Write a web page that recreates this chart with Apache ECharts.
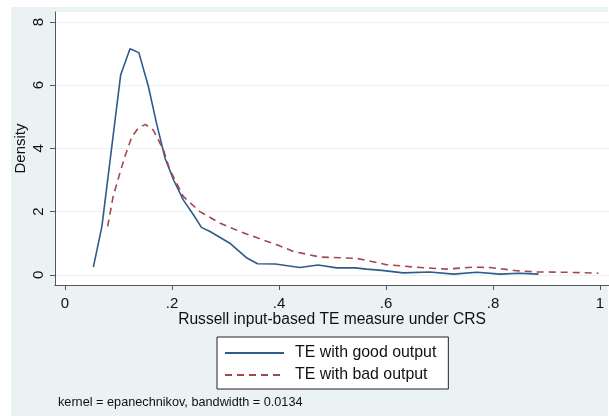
<!DOCTYPE html>
<html>
<head>
<meta charset="utf-8">
<script src="https://cdn.jsdelivr.net/npm/echarts@6/dist/echarts.min.js"></script>
<style>
  html, body { margin: 0; padding: 0; background: #fff; }
  #chart { width: 609px; height: 416px; }
</style>
</head>
<body>
<div id="chart"></div>
<script>
// kernel density estimates
const goodX = [0.053, 0.069, 0.104, 0.1215, 0.138, 0.156, 0.171, 0.187, 0.203, 0.221, 0.240, 0.255, 0.271, 0.290, 0.308, 0.340, 0.360, 0.393, 0.439, 0.473, 0.508, 0.542, 0.564, 0.592, 0.632, 0.682, 0.726, 0.770, 0.813, 0.850, 0.885]
const goodY = [0.24, 1.53, 6.32, 7.15, 7.03, 5.95, 4.8, 3.69, 3.0, 2.37, 1.9, 1.5, 1.37, 1.18, 1.0, 0.53, 0.35, 0.34, 0.23, 0.31, 0.22, 0.22, 0.18, 0.14, 0.06, 0.09, 0.02, 0.08, 0.02, 0.05, 0.02]
const badX = [0.0797, 0.090, 0.1015, 0.112, 0.125, 0.137, 0.150, 0.165, 0.184, 0.196, 0.221, 0.252, 0.290, 0.327, 0.364, 0.396, 0.427, 0.477, 0.545, 0.601, 0.657, 0.713, 0.763, 0.794, 0.844, 0.882, 0.938, 0.997]
const badY = [1.53, 2.48, 3.16, 3.74, 4.37, 4.64, 4.76, 4.58, 3.95, 3.32, 2.48, 2.0, 1.63, 1.37, 1.14, 0.95, 0.74, 0.56, 0.52, 0.32, 0.24, 0.18, 0.24, 0.23, 0.13, 0.09, 0.08, 0.05]
const xTicks = [0, 0.2, 0.4, 0.6, 0.8, 1]
const yTicks = [0, 2, 4, 6, 8]
const seriesNames = ['TE with good output', 'TE with bad output']
const xTitle = 'Russell input-based TE measure under CRS'
const yTitle = 'Density'
const noteText = 'kernel = epanechnikov, bandwidth = 0.0134'

const font = 'Liberation Sans, Arial, sans-serif'

function pairs(xs, ys) {
  let out = []
  for (let i = 0; i < xs.length; ++i) {
    out.push([xs[i], ys[i]])
  }
  return out
}

const chart = echarts.init(document.getElementById('chart'), null, { renderer: 'canvas' })
chart.setOption({
  animation: false,
  backgroundColor: '#eaf2f3',
  textStyle: { fontFamily: font },
  grid: {
    left: 55, right: 0, top: 12, bottom: 131,
    show: true, backgroundColor: '#ffffff', borderWidth: 0
  },
  graphic: [
    // white margins outside the stata frame
    { type: 'rect', left: 0, top: 0, shape: { width: 11, height: 416 }, style: { fill: '#fff' } },
    { type: 'rect', left: 0, top: 0, shape: { width: 609, height: 7 }, style: { fill: '#fff' } },
    { type: 'rect', left: 608, top: 0, shape: { width: 1, height: 416 }, style: { fill: '#fff' } },
    { type: 'text', left: 58, top: 396, style: { text: noteText, font: '12.7px ' + font, fill: '#111' } }
  ],
  xAxis: {
    type: 'value',
    min: -0.0187,
    max: 1.0168,
    name: xTitle,
    nameLocation: 'middle',
    nameGap: 27,
    nameMoveOverlap: false,
    nameTextStyle: { fontSize: 15.6, color: '#111' },
    axisLine: { show: true, onZero: false, lineStyle: { color: '#555', width: 1 } },
    axisTick: { show: true, length: 5, customValues: xTicks, lineStyle: { color: '#555' } },
    axisLabel: {
      customValues: xTicks, fontSize: 15, color: '#111', margin: 11,
      formatter: function (v) {
        return String(v).replace(/^0\./, '.')
      }
    },
    splitLine: { show: false }
  },
  yAxis: {
    type: 'value',
    min: -0.323,
    max: 8.316,
    name: yTitle,
    nameLocation: 'middle',
    nameRotate: 90,
    nameGap: 27,
    nameMoveOverlap: false,
    nameTextStyle: { fontSize: 15, color: '#111' },
    axisLine: { show: true, onZero: false, lineStyle: { color: '#555', width: 1 } },
    axisTick: { show: true, length: 5, customValues: yTicks, lineStyle: { color: '#555' } },
    axisLabel: { customValues: yTicks, rotate: 90, fontSize: 15, color: '#111', margin: 9 },
    splitLine: { show: true, lineStyle: { color: '#eaf2f3', width: 1 } }
  },
  legend: {
    left: 217,
    top: 337,
    orient: 'vertical',
    backgroundColor: '#fff',
    borderColor: '#222',
    borderWidth: 1,
    borderRadius: 0,
    padding: [8, 12, 6, 7],
    itemWidth: 59,
    itemHeight: 14,
    itemGap: 6,
    itemStyle: { opacity: 0 },
    textStyle: { fontSize: 15.9, color: '#111', padding: [0, 0, 0, 6] },
    data: seriesNames
  },
  series: [{
    name: seriesNames[0],
    type: 'line',
    data: pairs(goodX, goodY),
    symbol: 'none',
    smooth: false,
    lineStyle: { color: '#2f5b88', width: 1.6 },
    itemStyle: { color: '#2f5b88' }
  }, {
    name: seriesNames[1],
    type: 'line',
    data: pairs(badX, badY),
    symbol: 'none',
    smooth: false,
    lineStyle: { color: '#a3464e', width: 1.6, type: [7, 5] },
    itemStyle: { color: '#a3464e' }
  }]
})
</script>
</body>
</html>
